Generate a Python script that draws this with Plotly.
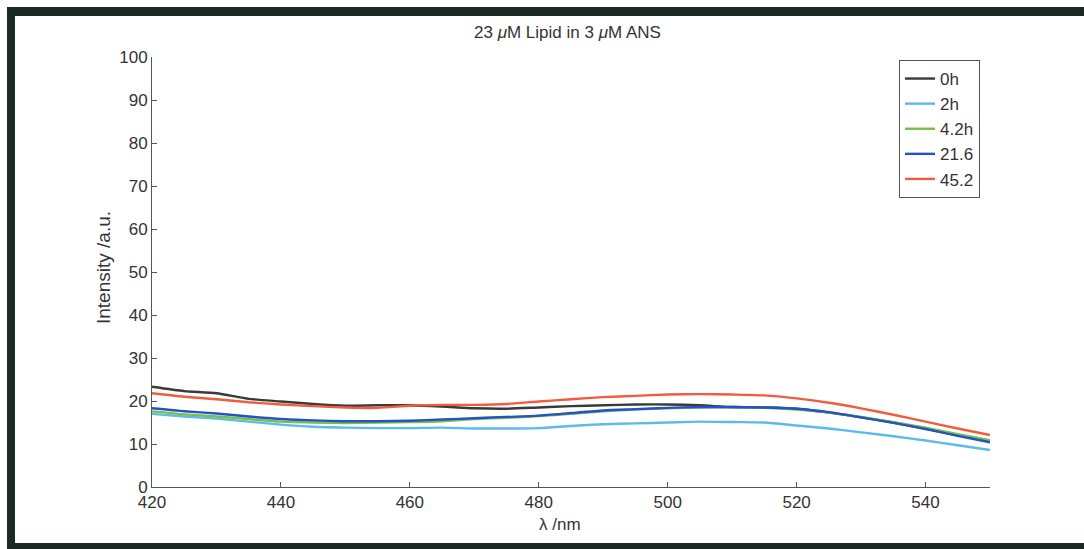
import plotly.graph_objects as go

# Emission spectra of ANS with lipid, recorded at several incubation times
wavelength = [420, 425, 430, 435, 440, 445, 450, 455, 460, 465, 470, 475, 480, 485,
              490, 495, 500, 505, 510, 515, 520, 525, 530, 535, 540, 545, 550]

series_names = ["0h", "2h", "4.2h", "21.6", "45.2"]

int_0h = [23.3, 22.3, 21.8, 20.5, 19.9, 19.3, 18.9, 19.0, 19.0, 18.7, 18.3, 18.2, 18.5, 18.8,
          19.0, 19.2, 19.2, 19.0, 18.6, 18.5, 18.2, 17.3, 16.2, 15.0, 13.6, 12.0, 10.6]
int_2h = [17.0, 16.4, 15.9, 15.2, 14.5, 14.0, 13.8, 13.7, 13.7, 13.8, 13.6, 13.6, 13.7, 14.2,
          14.6, 14.8, 15.0, 15.2, 15.1, 15.0, 14.3, 13.6, 12.7, 11.8, 10.8, 9.7, 8.6]
int_4_2h = [17.6, 16.9, 16.4, 15.8, 15.2, 15.0, 14.9, 15.0, 15.1, 15.3, 15.8, 16.1, 16.5, 17.0,
            17.6, 18.0, 18.3, 18.5, 18.5, 18.4, 18.0, 17.3, 16.3, 15.1, 13.8, 12.3, 10.9]
int_21_6 = [18.3, 17.6, 17.1, 16.4, 15.8, 15.5, 15.3, 15.3, 15.4, 15.7, 16.0, 16.3, 16.6, 17.2,
            17.8, 18.1, 18.4, 18.6, 18.6, 18.5, 18.2, 17.4, 16.2, 14.9, 13.5, 11.9, 10.4]
int_45_2 = [21.8, 21.0, 20.4, 19.7, 19.2, 18.8, 18.5, 18.4, 18.9, 19.1, 19.1, 19.3, 19.9, 20.4,
            20.9, 21.2, 21.5, 21.6, 21.5, 21.3, 20.6, 19.6, 18.3, 16.8, 15.2, 13.6, 12.1]

x_ticks = [420, 440, 460, 480, 500, 520, 540]
y_ticks = [0, 10, 20, 30, 40, 50, 60, 70, 80, 90, 100]

series_values = [int_0h, int_2h, int_4_2h, int_21_6, int_45_2]
series_colors = ["#3a3a3a", "#5bbbea", "#78c044", "#2452c8", "#f25c3e"]

W, H = 1084, 549
L, R, T, B = 152, 990, 57, 487  # plot area edges in pixels
FONT = "Liberation Sans, Arial, Helvetica, sans-serif"
TEXT = "#333333"
FRAME = "#1c2a26"
FS = 17

fig = go.Figure()
for name, vals, col in zip(series_names, series_values, series_colors):
    fig.add_trace(go.Scatter(
        x=wavelength, y=vals, name=name, mode="lines",
        line=dict(color=col, width=2.4, shape="spline", smoothing=0.6),
        legendgroup=name,
    ))


def px_x(p):
    return (p - L) / (R - L)


def px_y(p):
    return (B - p) / (B - T)


shapes = [
    # dark frame around the figure (left, top, bottom)
    dict(type="rect", xref="paper", yref="paper", x0=px_x(7), x1=px_x(15),
         y0=px_y(549), y1=px_y(7), fillcolor=FRAME, line_width=0, layer="above"),
    dict(type="rect", xref="paper", yref="paper", x0=px_x(7), x1=px_x(1084),
         y0=px_y(16), y1=px_y(7), fillcolor=FRAME, line_width=0, layer="above"),
    dict(type="rect", xref="paper", yref="paper", x0=px_x(7), x1=px_x(1084),
         y0=px_y(549), y1=px_y(543), fillcolor=FRAME, line_width=0, layer="above"),
]

annotations = [
    dict(text="23 <i>μ</i>M Lipid in 3 <i>μ</i>M ANS", xref="paper", yref="paper",
         x=px_x(567), y=px_y(33), xanchor="center", yanchor="middle",
         showarrow=False, font=dict(size=FS, color=TEXT)),
    dict(text="Intensity /a.u.", xref="paper", yref="paper", x=px_x(103), y=px_y(268),
         xanchor="center", yanchor="middle", textangle=-90, showarrow=False,
         font=dict(size=19, color=TEXT)),
    dict(text="λ /nm", xref="paper", yref="paper", x=px_x(560), y=px_y(524),
         xanchor="center", yanchor="middle", showarrow=False,
         font=dict(size=FS, color=TEXT)),
]

fig.update_layout(
    width=W, height=H,
    margin=dict(l=L, r=W - R, t=T, b=H - B, pad=0),
    paper_bgcolor="white", plot_bgcolor="white",
    font=dict(family=FONT, size=FS, color=TEXT),
    showlegend=True,
    legend=dict(x=px_x(980), y=px_y(60), xanchor="right", yanchor="top",
                bordercolor="#555555", borderwidth=1, bgcolor="white",
                font=dict(size=FS, color=TEXT), traceorder="grouped",
                tracegroupgap=0, itemwidth=30),
    shapes=shapes,
    annotations=annotations,
)
fig.update_xaxes(range=[420, 550], tickvals=x_ticks, ticks="inside", ticklen=5,
                 tickcolor="#555555", showline=True, linecolor="#555555", linewidth=1,
                 showgrid=False, zeroline=False, mirror=False,
                 tickfont=dict(size=FS, color=TEXT))
fig.update_yaxes(range=[0, 100], tickvals=y_ticks, ticks="inside", ticklen=5,
                 tickcolor="#555555", showline=True, linecolor="#555555", linewidth=1,
                 showgrid=False, zeroline=False, mirror=False,
                 tickfont=dict(size=FS, color=TEXT))

fig.write_html("out.html")
